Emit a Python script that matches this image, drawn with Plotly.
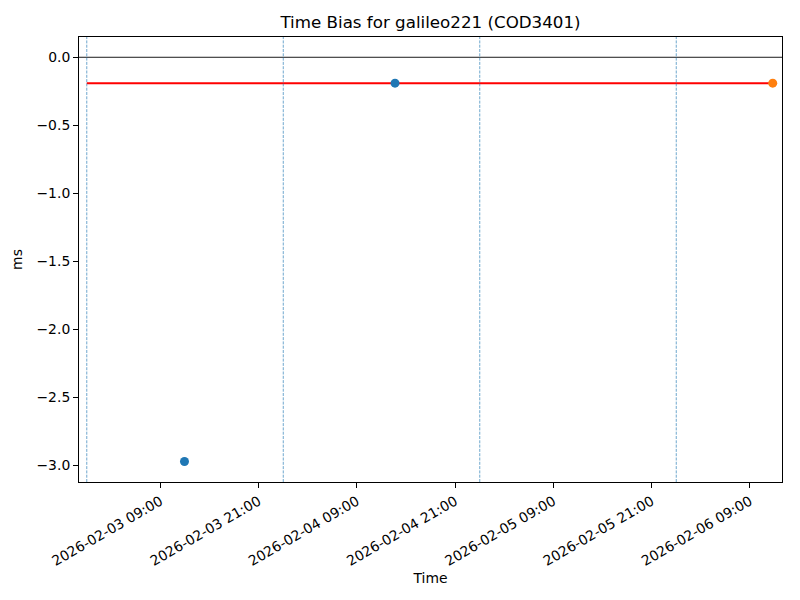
import plotly.graph_objects as go

# Data
day_boundaries = ["2026-02-03 00:00", "2026-02-04 00:00", "2026-02-05 00:00", "2026-02-06 00:00"]
blue_times = ["2026-02-03 11:56", "2026-02-04 13:39"]
blue_values = [-2.97, -0.19]
orange_times = ["2026-02-06 11:47"]
orange_values = [-0.19]
ref_times = ["2026-02-03 00:00", "2026-02-06 11:47"]
ref_values = [-0.19, -0.19]
x_range = ["2026-02-02 23:03", "2026-02-06 12:55"]
y_range = [-3.121, 0.149]
tick_vals = ["2026-02-03 09:00", "2026-02-03 21:00", "2026-02-04 09:00", "2026-02-04 21:00",
             "2026-02-05 09:00", "2026-02-05 21:00", "2026-02-06 09:00"]
tick_text = [t for t in tick_vals]
y_ticks = [0.0, -0.5, -1.0, -1.5, -2.0, -2.5, -3.0]

FONT = "DejaVu Sans"
BLUE = "#1f77b4"
ORANGE = "#ff7f0e"

fig = go.Figure()

# zero line
fig.add_hline(y=0, line=dict(color="black", width=0.9), layer="below")

# day boundary lines
for d in day_boundaries:
    fig.add_vline(x=d, line=dict(color=BLUE, width=0.8, dash="3px,1.3px"), opacity=0.8)

fig.add_trace(go.Scatter(x=ref_times, y=ref_values, mode="lines",
                         line=dict(color="red", width=2), showlegend=False, hoverinfo="skip"))
fig.add_trace(go.Scatter(x=blue_times, y=blue_values, mode="markers",
                         marker=dict(color=BLUE, size=9), showlegend=False))
fig.add_trace(go.Scatter(x=orange_times, y=orange_values, mode="markers",
                         marker=dict(color=ORANGE, size=9), showlegend=False))

fig.update_layout(
    width=800, height=600,
    margin=dict(l=79, r=18, t=37, b=118, autoexpand=False),
    paper_bgcolor="white", plot_bgcolor="white",
    font=dict(family=FONT, size=13.9, color="black"),
    title=dict(text="Time Bias for galileo221 (COD3401)", x=430.5 / 800, xanchor="center",
               y=1 - 22 / 600, yanchor="middle", font=dict(family=FONT, size=16.7, color="black")),
    showlegend=False,
)
fig.update_xaxes(
    type="date", range=x_range, automargin=False,
    tickvals=tick_vals, ticktext=tick_text, tickangle=-30,
    ticks="outside", ticklen=5, tickwidth=1, tickcolor="black",
    showline=True, linecolor="black", linewidth=1, mirror=True,
    showgrid=False, zeroline=False,
    tickfont=dict(family=FONT, size=13.9, color="black"),
    title=dict(text="Time", font=dict(family=FONT, size=13.9, color="black"), standoff=5),
)
fig.update_yaxes(
    range=y_range, tickvals=y_ticks, tickformat=".1f", automargin=False,
    ticks="outside", ticklen=5, tickwidth=1, tickcolor="black",
    showline=True, linecolor="black", linewidth=1, mirror=True,
    showgrid=False, zeroline=False,
    tickfont=dict(family=FONT, size=13.9, color="black"),
    title=dict(text="ms", font=dict(family=FONT, size=13.9, color="black"), standoff=10),
)

fig.write_html("out.html", config={"displayModeBar": False},
               post_script="document.body.style.margin='0';")
